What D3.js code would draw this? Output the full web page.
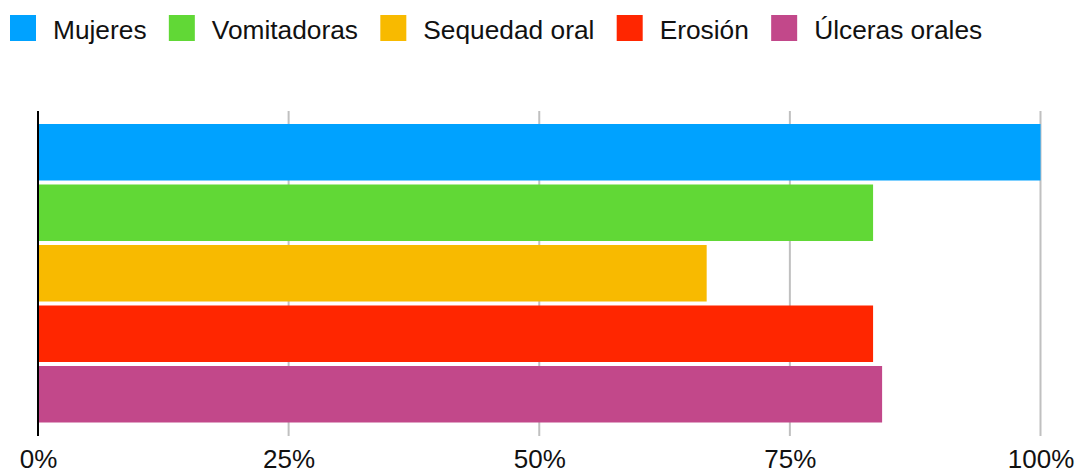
<!DOCTYPE html>
<html>
<head>
<meta charset="utf-8">
<script src="https://cdn.jsdelivr.net/npm/d3@7"></script>
<style>
  html, body { margin: 0; padding: 0; background: #fff; }
  svg { display: block; font-family: "Liberation Sans", Arial, Helvetica, sans-serif; }
</style>
</head>
<body>
<svg id="chart" width="1078" height="472"></svg>
<script>
// Series shown as horizontal bars (percent)
const series = ["Mujeres", "Vomitadoras", "Sequedad oral", "Erosión", "Úlceras orales"];
const values = [100, 83.3, 66.7, 83.3, 84.2];
const colors = ["#00A2FF", "#61D836", "#F8BA00", "#FF2600", "#C2488A"];
const tickValues = [0, 25, 50, 75, 100];

const svg = d3.select("#chart");

const x = d3.scaleLinear().domain([0, 100]).range([38, 1040.5]);
const plotTop = 111, plotBottom = 436;
const y = d3.scaleBand().domain(series).range([124, 422.5]).paddingInner(0.066).paddingOuter(0);

// Vertical gridlines
svg.append("g")
  .selectAll("line")
  .data(tickValues.filter(d => d > 0))
  .join("line")
  .attr("x1", d => x(d)).attr("x2", d => x(d))
  .attr("y1", plotTop).attr("y2", plotBottom)
  .attr("stroke", "#c0c0c0")
  .attr("stroke-width", 2);

// Bars
svg.append("g")
  .selectAll("rect")
  .data(series.map((s, i) => ({ s, v: values[i], c: colors[i] })))
  .join("rect")
  .attr("x", x(0) + 1)
  .attr("y", d => y(d.s))
  .attr("width", d => x(d.v) - x(0) - 1)
  .attr("height", y.bandwidth())
  .attr("fill", d => d.c);

// Zero axis line
svg.append("line")
  .attr("x1", x(0)).attr("x2", x(0))
  .attr("y1", plotTop).attr("y2", plotBottom)
  .attr("stroke", "#000")
  .attr("stroke-width", 2);

// Bottom axis labels
const axis = d3.axisBottom(x)
  .tickValues(tickValues)
  .tickFormat(d => d + "%")
  .tickSize(0)
  .tickPadding(0);
const axisG = svg.append("g")
  .attr("transform", `translate(0, 449)`)
  .call(axis);
axisG.select(".domain").remove();
axisG.selectAll("text")
  .attr("dy", null)
  .attr("y", 19)
  .attr("fill", "#111")
  .style("font-size", "26px")
  .style("font-family", "'Liberation Sans', Arial, Helvetica, sans-serif");

// Legend
const legend = svg.append("g");
let lx = 10;
series.forEach((s, i) => {
  const g = legend.append("g");
  g.append("rect")
    .attr("x", lx).attr("y", 15)
    .attr("width", 26).attr("height", 26)
    .attr("fill", colors[i]);
  const t = g.append("text")
    .attr("x", lx + 43).attr("y", 38.5)
    .attr("fill", "#111")
    .style("font-size", "26.3px")
    .text(s);
  lx = lx + 43 + t.node().getComputedTextLength() + 22.3;
});
</script>
</body>
</html>
